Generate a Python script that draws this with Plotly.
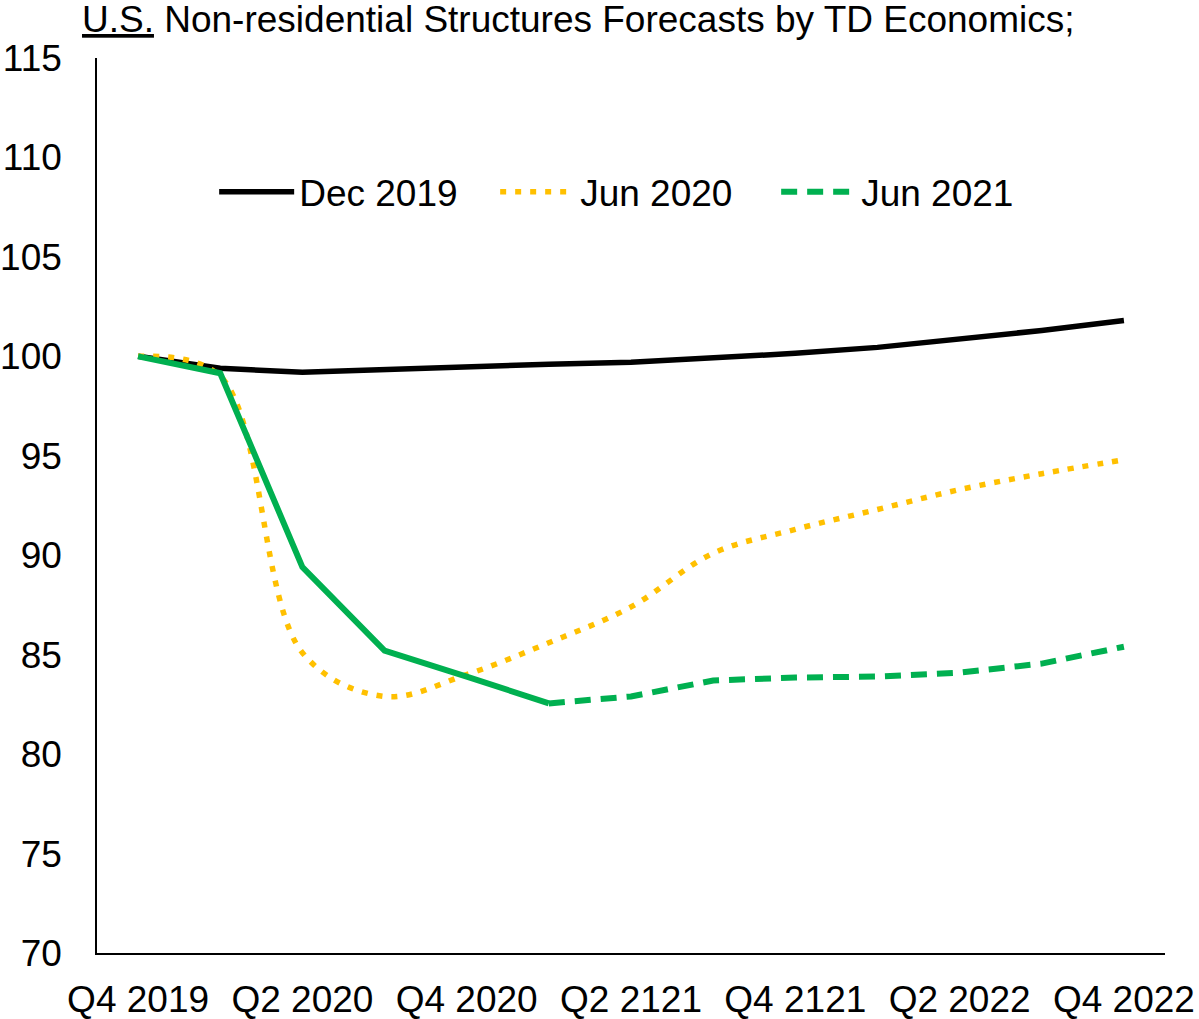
import plotly.graph_objects as go

# Quarterly index (Q4 2019 = 100) of U.S. non-residential structures investment
quarters = ["Q4 2019", "Q1 2020", "Q2 2020", "Q3 2020", "Q4 2020",
            "Q1 2121", "Q2 2121", "Q3 2121", "Q4 2121",
            "Q1 2022", "Q2 2022", "Q3 2022", "Q4 2022"]
tick_quarters = quarters[::2]

dec_2019 = [100.0, 99.4, 99.2, 99.35, 99.5, 99.6, 99.7, 99.9, 100.15,
            100.45, 100.85, 101.3, 101.8]
jun_2020 = [100.0, 99.0, 85.1, 82.9, 84.0, 85.6, 87.4, 90.1, 91.3,
            92.3, 93.3, 94.1, 94.8]
# Jun 2021 vintage: history through Q1 2021 (solid), forecast afterwards (dashed)
jun_2021_actual = [100.0, 99.15, 89.4, 85.2, 83.9, 82.55]
jun_2021_forecast = [82.55, 82.9, 83.7, 83.85, 83.9, 84.1, 84.55, 85.4]

FONT = "Liberation Sans, Arial, sans-serif"
FS = 37
BLACK = "#000000"
GOLD = "#FFC000"
GREEN = "#00B050"

fig = go.Figure()

fig.add_trace(go.Scatter(
    x=quarters, y=dec_2019, name="Dec 2019", mode="lines",
    line=dict(color=BLACK, width=5.5),
))
fig.add_trace(go.Scatter(
    x=quarters, y=jun_2020, name="Jun 2020", mode="lines",
    line=dict(color=GOLD, width=5.5, dash="6px,9px", shape="spline"),
))
fig.add_trace(go.Scatter(
    x=quarters[:len(jun_2021_actual)], y=jun_2021_actual, name="Jun 2021",
    mode="lines", showlegend=False,
    line=dict(color=GREEN, width=6),
))
fig.add_trace(go.Scatter(
    x=quarters[len(jun_2021_actual) - 1:], y=jun_2021_forecast, name="Jun 2021",
    mode="lines",
    line=dict(color=GREEN, width=6, dash="16px,10px"),
))

fig.update_layout(
    width=1199, height=1019,
    margin=dict(l=97, r=34, t=58, b=66),
    paper_bgcolor="white", plot_bgcolor="white",
    font=dict(family=FONT, size=FS, color="black"),
    showlegend=True,
    legend=dict(
        orientation="h", x=0.1097, y=0.85, xanchor="left", yanchor="middle",
        bgcolor="rgba(0,0,0,0)", font=dict(size=FS), itemwidth=75,
        entrywidth=191, entrywidthmode="pixels", traceorder="normal",
    ),
    annotations=[dict(
        text="<u>U.S.</u> Non-residential Structures Forecasts by TD Economics;",
        xref="paper", yref="paper", x=(80 - 97) / 1068, y=1 + (58 - 20) / 895,
        xanchor="left", yanchor="middle", showarrow=False,
        font=dict(family=FONT, size=FS, color="black"),
    )],
)

fig.update_xaxes(
    type="category", categoryorder="array", categoryarray=quarters,
    range=[-0.5, len(quarters) - 0.5], automargin=False,
    tickmode="array", tickvals=tick_quarters, ticktext=tick_quarters,
    showline=True, linecolor="black", linewidth=1.5, mirror=False,
    showgrid=False, zeroline=False, ticks="", ticklabelstandoff=13,
    tickfont=dict(size=FS),
)
fig.update_yaxes(
    range=[70, 115], tickmode="linear", tick0=70, dtick=5, automargin=False,
    showline=True, linecolor="black", linewidth=1.5,
    showgrid=False, zeroline=False, ticks="", ticklabelstandoff=26,
    tickfont=dict(size=FS),
)

fig.write_html("out.html")
